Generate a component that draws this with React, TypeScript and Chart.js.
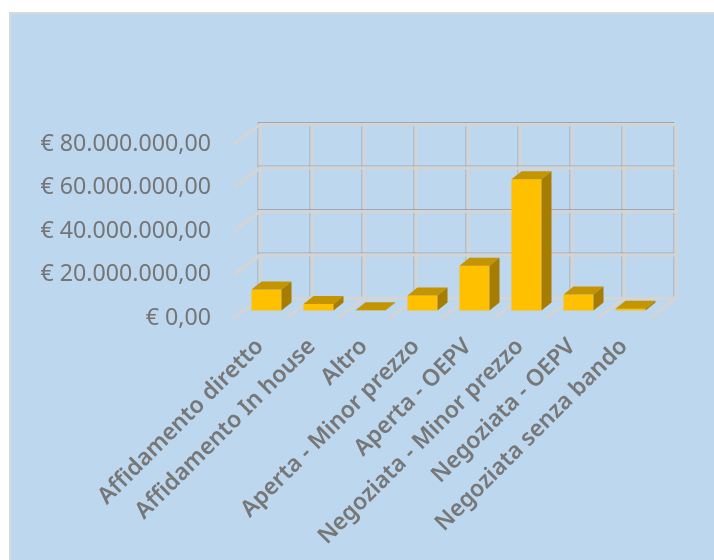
import React, { useEffect, useRef } from "react";
import { Chart, registerables } from "chart.js";

Chart.register(...registerables);

const categories = [
  "Affidamento diretto",
  "Affidamento In house",
  "Altro",
  "Aperta - Minor prezzo",
  "Aperta - OEPV",
  "Negoziata - Minor prezzo",
  "Negoziata - OEPV",
  "Negoziata senza bando",
];
const amounts = [9600000, 3000000, 100000, 6900000, 20600000, 60300000, 7300000, 800000];
const yTickLabels: Record<number, string> = {
  0: "€ 0,00",
  20000000: "€ 20.000.000,00",
  40000000: "€ 40.000.000,00",
  60000000: "€ 60.000.000,00",
  80000000: "€ 80.000.000,00",
};

const WALL_DX = 26;
const WALL_DY = 19.5;
const BAR_SHIFT_X = 6.5;
const BAR_SHIFT_Y = 7.5;
const BAR_DX = 10;
const BAR_DY = 8;
const GRID = "#d4d4d4";
const GRID_SHADE = "rgba(130,140,155,0.6)";

const walls = {
  id: "walls",
  beforeDatasetsDraw(chart: any) {
    const { ctx, chartArea: a, scales } = chart;
    const seg = (x1: number, y1: number, x2: number, y2: number, shade: boolean, w = 3) => {
      if (shade) {
        ctx.strokeStyle = GRID_SHADE;
        ctx.lineWidth = 1;
        ctx.beginPath();
        ctx.moveTo(x1 - 2, y1 - 2);
        ctx.lineTo(x2 - 2, y2 - 2);
        ctx.stroke();
      }
      ctx.strokeStyle = GRID;
      ctx.lineWidth = w;
      ctx.beginPath();
      ctx.moveTo(x1, y1);
      ctx.lineTo(x2, y2);
      ctx.stroke();
    };
    ctx.save();
    const backLeft = a.left + WALL_DX;
    const backRight = a.right + WALL_DX;
    const backTop = a.top - WALL_DY;
    const backBottom = a.bottom - WALL_DY;
    const n = categories.length;
    for (let i = 0; i <= n; i++) {
      const x = a.left + ((a.right - a.left) * i) / n;
      seg(x + WALL_DX, backTop, x + WALL_DX, backBottom, true);
    }
    scales.y.ticks.forEach((t: any) => {
      const y = scales.y.getPixelForValue(t.value);
      seg(backLeft, y - WALL_DY, backRight, y - WALL_DY, t.value !== 0);
      seg(a.left, y, backLeft, y - WALL_DY, false, 3);
    });
    for (let i = 0; i <= n; i++) {
      const x = a.left + ((a.right - a.left) * i) / n;
      seg(x, a.bottom, x + WALL_DX, backBottom, false, 3);
    }
    ctx.restore();
    ctx.save();
    ctx.translate(BAR_SHIFT_X, -BAR_SHIFT_Y);
  },
  afterDatasetsDraw(chart: any) {
    const { ctx } = chart;
    chart.getDatasetMeta(0).data.forEach((el: any) => {
      const l = el.x - el.width / 2;
      const r = el.x + el.width / 2;
      const top = el.y;
      const bot = el.base;
      ctx.fillStyle = "#c49500";
      ctx.beginPath();
      ctx.moveTo(l, top);
      ctx.lineTo(r, top);
      ctx.lineTo(r + BAR_DX, top - BAR_DY);
      ctx.lineTo(l + BAR_DX, top - BAR_DY);
      ctx.closePath();
      ctx.fill();
      ctx.fillStyle = "#a67d00";
      ctx.beginPath();
      ctx.moveTo(r, top);
      ctx.lineTo(r + BAR_DX, top - BAR_DY);
      ctx.lineTo(r + BAR_DX, bot - BAR_DY);
      ctx.lineTo(r, bot);
      ctx.closePath();
      ctx.fill();
    });
    ctx.restore();
  },
};

export default function App() {
  const ref = useRef<HTMLCanvasElement>(null);
  useEffect(() => {
    const chart = new Chart(ref.current!, {
      type: "bar",
      data: {
        labels: categories,
        datasets: [
          {
            data: amounts,
            backgroundColor: "#ffc000",
            categoryPercentage: 1,
            barPercentage: 0.577,
            clip: false,
          } as any,
        ],
      },
      plugins: [walls],
      options: {
        animation: false,
        responsive: false,
        layout: { autoPadding: false, padding: { left: 0, right: 64, top: 144, bottom: 0 } } as any,
        plugins: { legend: { display: false }, tooltip: { enabled: false } },
        scales: {
          x: {
            grid: { display: false, drawTicks: false },
            border: { display: false },
            afterFit(s: any) {
              s.height = 242;
            },
            ticks: {
              minRotation: 45,
              maxRotation: 45,
              autoSkip: false,
              padding: 15,
              color: "#777777",
              font: { family: "'Noto Sans'", size: 23, weight: "600" },
            },
          },
          y: {
            min: 0,
            max: 80000000,
            grid: { display: false, drawTicks: false },
            border: { display: false },
            afterFit(s: any) {
              s.width = 234;
            },
            ticks: {
              stepSize: 20000000,
              padding: 23,
              color: "#757575",
              font: { family: "'Noto Sans'", size: 23.2 },
              callback: (v: any) => yTickLabels[v as number],
            },
          },
        },
      },
    });
    return () => chart.destroy();
  }, []);
  return (
    <div style={{ position: "absolute", left: 0, top: 0, width: 714, height: 560, background: "#fff", overflow: "hidden" }}>
      <div
        style={{
          position: "absolute",
          left: 9,
          top: 12,
          width: 720,
          height: 560,
          boxSizing: "border-box",
          background: "#bdd7ee",
          border: "2px solid #d9d9d9",
        }}
      />
      <canvas ref={ref} width={714} height={560} style={{ position: "absolute", left: 0, top: 0 }} />
    </div>
  );
}
